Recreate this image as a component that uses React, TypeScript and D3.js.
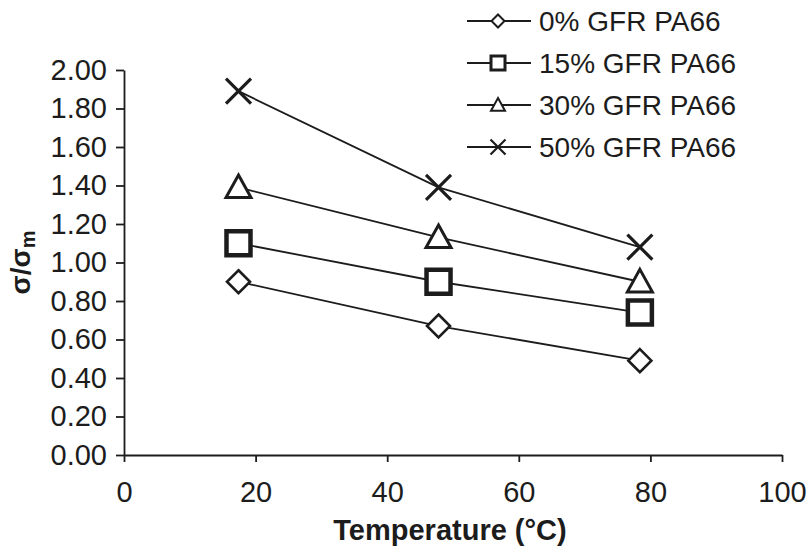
import React, { useRef, useEffect } from "react";
import * as d3 from "d3";

const width = 808;
const height = 551;

// temperatures (°C) of the three test points
const temperatures = [17.4, 47.8, 78.4];

const series0 = [0.9, 0.67, 0.49];
const series15 = [1.1, 0.9, 0.74];
const series30 = [1.39, 1.13, 0.9];
const series50 = [1.89, 1.39, 1.08];

const seriesNames = ["0% GFR PA66", "15% GFR PA66", "30% GFR PA66", "50% GFR PA66"];
const seriesMarkers = ["diamond", "square", "triangle", "cross"];

const xTicks = [0, 20, 40, 60, 80, 100];
const yTicks = [0, 0.2, 0.4, 0.6, 0.8, 1.0, 1.2, 1.4, 1.6, 1.8, 2.0];

const ink = "#1c1c1c";
const font = "'Liberation Sans', Arial, Helvetica, sans-serif";

const x = d3.scaleLinear().domain([0, 100]).range([124, 782]);
const y = d3.scaleLinear().domain([0, 2]).range([455, 70]);

const markerPath = (type: string, s: number) => {
  const h = s / 2;
  if (type === "diamond") return `M0,${-h}L${h},0L0,${h}L${-h},0Z`;
  if (type === "square") return `M${-h},${-h}H${h}V${h}H${-h}Z`;
  if (type === "triangle") {
    const t = s * 0.9;
    return `M0,${-t * 0.55}L${h},${t * 0.45}L${-h},${t * 0.45}Z`;
  }
  return `M${-h},${-h}L${h},${h}M${h},${-h}L${-h},${h}`;
};

const bigSize: Record<string, number> = { diamond: 23, square: 24, triangle: 25, cross: 25 };
const bigStroke: Record<string, number> = { diamond: 2.6, square: 4.5, triangle: 3, cross: 3.2 };
const smallSize: Record<string, number> = { diamond: 13, square: 14, triangle: 14, cross: 15 };
const smallStroke: Record<string, number> = { diamond: 2, square: 3, triangle: 2, cross: 2.2 };

const Marker = ({ type, cx, cy, small }: { type: string; cx: number; cy: number; small?: boolean }) => (
  <path
    d={markerPath(type, small ? smallSize[type] : bigSize[type])}
    transform={`translate(${cx},${cy})`}
    fill={type === "cross" ? "none" : "white"}
    stroke={ink}
    strokeWidth={small ? smallStroke[type] : bigStroke[type]}
    strokeLinejoin="miter"
  />
);

export default function App() {
  const axesRef = useRef<SVGGElement>(null);
  const allSeries = [series0, series15, series30, series50];

  useEffect(() => {
    const g = d3.select(axesRef.current);
    g.selectAll("*").remove();

    const yAxis = d3
      .axisLeft(y)
      .tickValues(yTicks)
      .tickSize(8)
      .tickSizeOuter(0)
      .tickPadding(9)
      .tickFormat(d3.format(".2f"));
    const xAxis = d3
      .axisBottom(x)
      .tickValues(xTicks)
      .tickSize(7)
      .tickSizeOuter(0)
      .tickPadding(19)
      .tickFormat(d3.format("d"));

    const ya = g.append("g").attr("transform", `translate(${x(0)},0)`).call(yAxis);
    const xa = g.append("g").attr("transform", `translate(0,${y(0)})`).call(xAxis);

    [ya, xa].forEach((a) => {
      a.select(".domain").attr("stroke", ink).attr("stroke-width", 1.8);
      a.selectAll(".tick line").attr("stroke", ink).attr("stroke-width", 1.8);
      a.selectAll(".tick text")
        .attr("fill", ink)
        .style("font-family", font)
        .style("font-size", "29px");
    });
  }, []);

  const line = d3
    .line<number>()
    .x((_, i) => x(temperatures[i]))
    .y((d) => y(d));

  return (
    <svg
      width={width}
      height={height}
      style={{ position: "absolute", left: 0, top: 0, background: "white" }}
    >
      <g ref={axesRef} />

      {allSeries.map((s, k) => (
        <path key={`l${k}`} d={line(s) || ""} fill="none" stroke={ink} strokeWidth={1.8} />
      ))}
      {allSeries.map((s, k) =>
        s.map((v, i) => (
          <Marker key={`m${k}-${i}`} type={seriesMarkers[k]} cx={x(temperatures[i])} cy={y(v)} />
        ))
      )}

      {/* legend */}
      {seriesNames.map((name, k) => {
        const ry = 21 + k * 42;
        return (
          <g key={`lg${k}`}>
            <line x1={467} x2={531} y1={ry} y2={ry} stroke={ink} strokeWidth={1.8} />
            <Marker type={seriesMarkers[k]} cx={498} cy={ry} small />
            <text
              x={539}
              y={ry}
              dy="0.36em"
              fill={ink}
              style={{ fontFamily: font, fontSize: 28 }}
            >
              {name}
            </text>
          </g>
        );
      })}

      {/* axis titles */}
      <text
        x={450}
        y={540}
        textAnchor="middle"
        fill={ink}
        style={{ fontFamily: font, fontSize: 29, fontWeight: "bold" }}
      >
        Temperature (°C)
      </text>
      <text
        transform={`translate(30,${(y(0) + y(2)) / 2}) rotate(-90)`}
        textAnchor="middle"
        fill={ink}
        style={{ fontFamily: font, fontSize: 28, fontWeight: "bold" }}
      >
        σ/σ
        <tspan style={{ fontSize: 20 }} dy="5">m</tspan>
      </text>
    </svg>
  );
}
